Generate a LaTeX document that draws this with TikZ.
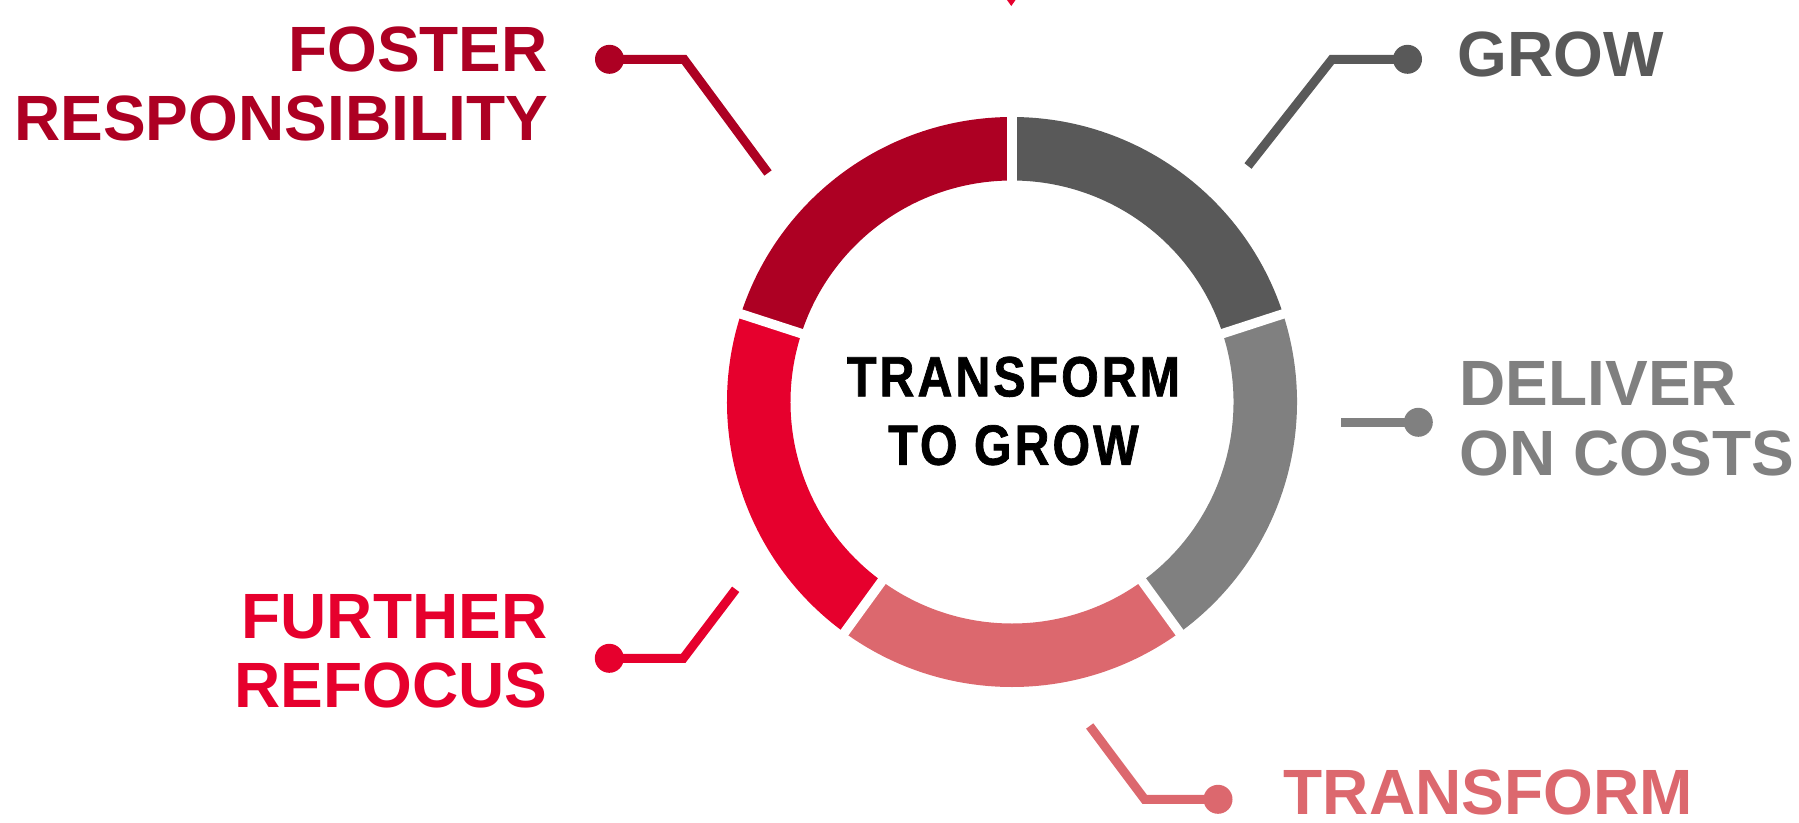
\documentclass[tikz,border=0pt]{standalone}
\usepackage{fontspec}
\setmainfont{Liberation Sans}
\newfontfamily\ringfont{Liberation Sans}[FakeStretch=0.85,LetterSpace=5.4,FakeBold=1.2]
\usepackage{xcolor}
\definecolor{fosterred}{HTML}{AD0023}
\definecolor{refocusred}{HTML}{E6002D}
\definecolor{transformpink}{HTML}{DC686E}
\definecolor{growgray}{HTML}{595959}
\definecolor{delivergray}{HTML}{808080}

\begin{document}
\begin{tikzpicture}[x=1pt,y=-1pt,
  tag/.style={font=\fontsize{64}{69.4}\selectfont\bfseries, inner sep=0pt},
  ringdot/.style={circle,fill,inner sep=0pt,minimum size=29pt},
  leader/.style={line width=9pt}
]
\useasboundingbox (0,0) rectangle (1799,822);

% ring of five parts
\begin{scope}[shift={(1012,402)}]
  \foreach \a/\b/\c in {-18/-90/growgray, 54/-18/delivergray,
      126/54/transformpink, 198/126/refocusred, 270/198/fosterred}
    \fill[\c] (\a:285) arc[start angle=\a, end angle=\b, radius=285]
      -- (\b:221.5) arc[start angle=\b, end angle=\a, radius=221.5] -- cycle;
  \foreach \g in {-90,-18,54,126,198}
    \draw[white, line width=9.5pt] (\g:210) -- (\g:295);
\end{scope}
\fill[refocusred] (1007,0) -- (1015.5,0) -- (1011.3,6) -- cycle;

\node[font=\ringfont\bfseries\fontsize{56.8}{68.4}\selectfont, align=center,
  inner sep=0pt, anchor=north] (core) at (1013.5,356.5) {TRANSFORM\\TO GROW};

% labels
\node[tag, fosterred, anchor=north east, align=right] (foster) at (548,26.5) {FOSTER\\RESPONSIBILITY};
\node[tag, growgray, anchor=north west] (grow) at (1457,31.5) {GROW};
\node[tag, delivergray, anchor=north west, align=left] (deliver) at (1459.5,361.5) {DELIVER\\ON COSTS};
\node[tag, transformpink, anchor=north west] (transform) at (1283.5,769.5) {TRANSFORM};
\node[tag, refocusred, anchor=north east, align=right] (refocus) at (547.5,594) {FURTHER\\REFOCUS};

% leaders
\node[ringdot, fosterred] (fosterdot) at (609.5,59.3) {};
\coordinate (fosterbend) at (684,59.3);
\coordinate (fosterend) at (768,173);
\draw[leader, fosterred] (fosterdot.center) -- (fosterbend) -- (fosterend);

\node[ringdot, growgray] (growdot) at (1407.5,59.3) {};
\coordinate (growbend) at (1332,59.3);
\coordinate (growend) at (1248,166);
\draw[leader, growgray] (growdot.center) -- (growbend) -- (growend);

\node[ringdot, delivergray] (deliverdot) at (1418.3,422.3) {};
\coordinate (deliverend) at (1341,422.3);
\draw[leader, delivergray] (deliverdot.center) -- (deliverend);

\node[ringdot, transformpink] (transformdot) at (1218,799.3) {};
\coordinate (transformbend) at (1144.6,799.3);
\coordinate (transformend) at (1089.7,726);
\draw[leader, transformpink] (transformdot.center) -- (transformbend) -- (transformend);

\node[ringdot, refocusred] (refocusdot) at (609.3,658.3) {};
\coordinate (refocusbend) at (683.3,658.3);
\coordinate (refocusend) at (735.7,589.3);
\draw[leader, refocusred] (refocusdot.center) -- (refocusbend) -- (refocusend);
\end{tikzpicture}
\end{document}
